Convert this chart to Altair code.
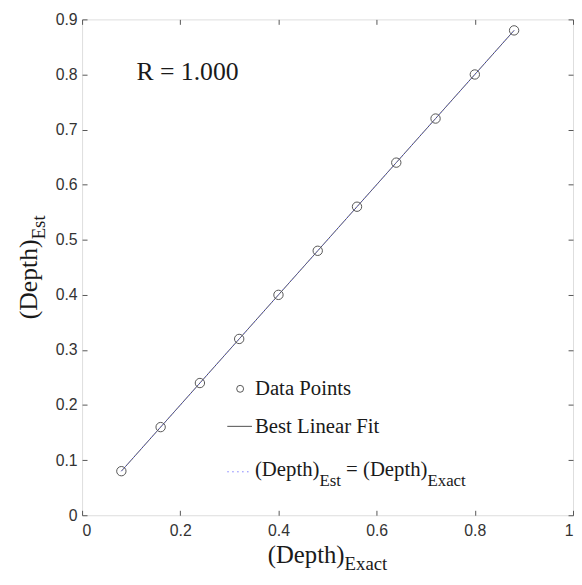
import altair as alt
import pandas as pd

# ---- data ----
exact = [0.08, 0.16, 0.24, 0.32, 0.40, 0.48, 0.56, 0.64, 0.72, 0.80, 0.88]
est = [0.08, 0.16, 0.24, 0.32, 0.40, 0.48, 0.56, 0.64, 0.72, 0.80, 0.88]
x_ticks = [0, 0.2, 0.4, 0.6, 0.8, 1.0]
y_ticks = [0, 0.1, 0.2, 0.3, 0.4, 0.5, 0.6, 0.7, 0.8, 0.9]
r_text = ["R = 1.000"]
legend_labels = ["Data Points", "Best Linear Fit"]
title_main = "(Depth)"
x_sub = "Exact"
y_sub = "Est"

W, H = 497, 502
SERIF = "Liberation Serif"
SANS = "Liberation Sans"
TXT = "#1a1a1a"
AX = "#555555"

# Times-compatible advance widths (per em) for layout of sub-scripted text
TW = {"(": .333, ")": .333, "D": .722, "e": .444, "p": .5, "t": .278, "h": .5,
      "E": .611, "s": .389, "x": .5, "a": .444, "c": .444, "=": .564, " ": .25}


def tw(s, size):
    return sum(TW.get(ch, .5) for ch in s) * size


df = pd.DataFrame({"exact": exact, "est": est})
xs = alt.Scale(domain=[0, 1], nice=False, zero=False)
ys = alt.Scale(domain=[0, 0.9], nice=False, zero=False)

common = dict(domain=False, grid=False, tickSize=5, tickColor=AX, tickWidth=1,
              offset=-5, title=None)
ax_bottom = alt.Axis(orient="bottom", values=x_ticks, format="~g", labelFont=SANS,
                     labelFontSize=16, labelColor="#333333", labelPadding=7, **common)
ax_left = alt.Axis(orient="left", values=y_ticks, format="~g", labelFont=SANS,
                   labelFontSize=16, labelColor="#333333", labelPadding=5, **common)
ax_top = alt.Axis(orient="top", values=x_ticks, labels=False, **common)
ax_right = alt.Axis(orient="right", values=y_ticks, labels=False, **common)

base = alt.Chart(df)
fit = base.mark_line(color="#4d4d4d", strokeWidth=1).encode(
    x=alt.X("exact:Q", scale=xs, axis=ax_bottom),
    y=alt.Y("est:Q", scale=ys, axis=ax_left),
)
ideal = base.mark_line(color="#6f6fff", strokeWidth=1, strokeDash=[1, 2]).encode(
    x=alt.X("exact:Q", scale=xs, axis=ax_top),
    y=alt.Y("est:Q", scale=ys, axis=ax_right),
)
pts = base.mark_point(shape="circle", size=90, filled=False, color="#555555",
                      strokeWidth=1, opacity=1).encode(
    x=alt.X("exact:Q", scale=xs, axis=None),
    y=alt.Y("est:Q", scale=ys, axis=None),
)


def txt(s, x, y, size, angle=0, font=SERIF):
    kw = dict(align="left", baseline="alphabetic", font=font, fontSize=size, color=TXT)
    if angle:
        kw["angle"] = angle
    return alt.Chart(pd.DataFrame({"t": [s]})).mark_text(**kw).encode(
        text="t:N", x=alt.value(x), y=alt.value(y))


layers = [fit, ideal, pts]

# R annotation
layers.append(txt(r_text[0], 55, 61, 26))

# legend
leg_x = 175
layers.append(alt.Chart(pd.DataFrame({"k": [0]})).mark_point(
    shape="circle", size=49, filled=False, color="#555555", strokeWidth=1, opacity=1
).encode(x=alt.value(160), y=alt.value(374)))
layers.append(txt(legend_labels[0], leg_x, 380, 21))
layers.append(alt.Chart(pd.DataFrame({"k": [0]})).mark_rule(
    color="#4d4d4d", strokeWidth=1).encode(x=alt.value(147), x2=alt.value(172), y=alt.value(412)))
layers.append(txt(legend_labels[1], leg_x, 419, 21))
layers.append(alt.Chart(pd.DataFrame({"k": [0]})).mark_rule(
    color="#7f7fff", strokeWidth=1, strokeDash=[1.5, 3.5]).encode(
    x=alt.value(147), x2=alt.value(170), y=alt.value(458)))
F, S = 21, 17
bl = 462
cx = leg_x
layers.append(txt(title_main, cx, bl, F)); cx += tw(title_main, F)
layers.append(txt(y_sub, cx, bl + 10, S)); cx += tw(y_sub, S)
cx += tw(" ", F)
layers.append(txt("=", cx, bl, F)); cx += tw("= ", F)
layers.append(txt(title_main, cx, bl, F)); cx += tw(title_main, F)
layers.append(txt(x_sub, cx, bl + 10, S))

# x axis title
TF, TS = 25, 19
tot = tw(title_main, TF) + tw(x_sub, TS)
x0 = W / 2 - tot / 2
layers.append(txt(title_main, x0, 550, TF))
layers.append(txt(x_sub, x0 + tw(title_main, TF), 557, TS))

# y axis title (rotated)
TF2 = 26
tot = tw(title_main, TF2) + tw(y_sub, TS)
y0 = H / 2 + tot / 2
layers.append(txt(title_main, -46, y0, TF2, angle=270))
layers.append(txt(y_sub, -38, y0 - tw(title_main, TF2), TS, angle=270))

chart = alt.layer(*layers).resolve_axis(x="independent", y="independent").properties(
    width=W, height=H,
    autosize=alt.AutoSizeParams(type="none"),
    padding={"left": 75, "top": 8, "right": 1, "bottom": 60},
).configure_view(stroke=AX, strokeWidth=1).configure(background="white")

chart.save("out.html", embed_options={"renderer": "svg", "actions": False})
